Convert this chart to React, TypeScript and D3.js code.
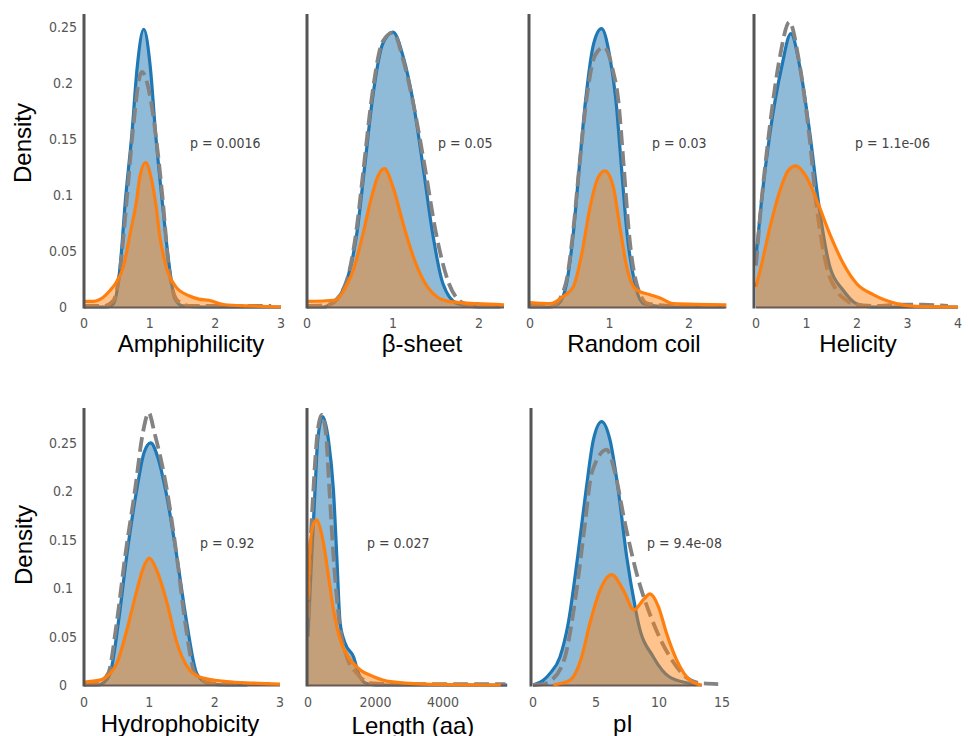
import React from 'react';
import * as d3 from 'd3';

type Pt = [number, number];

// ---- data (x value, density) ----
const amphiBlue: Pt[] = [[0, 0], [0.35, 0], [0.45, 0.003], [0.55, 0.036], [0.63, 0.095], [0.73, 0.155], [0.81, 0.214], [0.91, 0.248], [1.01, 0.214], [1.09, 0.155], [1.19, 0.095], [1.3, 0.036], [1.38, 0.008], [1.5, 0.001], [1.8, 0], [3, 0]];
const amphiGray: Pt[] = [[0, 0.001], [0.3, 0.001], [0.45, 0.006], [0.55, 0.034], [0.65, 0.095], [0.74, 0.155], [0.88, 0.21], [1.0, 0.19], [1.12, 0.14], [1.2, 0.095], [1.29, 0.036], [1.42, 0.006], [1.6, 0.001], [2.0, 0.001], [2.85, 0.001]];
const amphiOrange: Pt[] = [[0, 0.005], [0.15, 0.005], [0.25, 0.007], [0.4, 0.015], [0.48, 0.021], [0.6, 0.036], [0.7, 0.065], [0.8, 0.095], [0.85, 0.116], [0.94, 0.129], [1.02, 0.116], [1.1, 0.089], [1.15, 0.065], [1.25, 0.036], [1.4, 0.018], [1.6, 0.01], [1.75, 0.007], [1.9, 0.006], [2.15, 0.002], [2.5, 0.001], [3, 0]];

const betaBlue: Pt[] = [[0, 0], [0.2, 0], [0.28, 0.003], [0.45, 0.021], [0.58, 0.066], [0.67, 0.125], [0.76, 0.185], [0.88, 0.235], [1.0, 0.2455], [1.12, 0.223], [1.23, 0.185], [1.35, 0.125], [1.46, 0.066], [1.58, 0.021], [1.75, 0.003], [2.0, 0], [2.25, 0]];
const betaGray: Pt[] = [[0, 0.001], [0.25, 0.002], [0.45, 0.021], [0.57, 0.066], [0.66, 0.125], [0.75, 0.185], [0.88, 0.237], [1.0, 0.245], [1.12, 0.22], [1.24, 0.18], [1.37, 0.125], [1.5, 0.066], [1.65, 0.021], [1.83, 0.003], [2.0, 0.001], [2.29, 0.001]];
const betaOrange: Pt[] = [[0, 0.005], [0.32, 0.006], [0.43, 0.015], [0.55, 0.036], [0.65, 0.065], [0.74, 0.095], [0.82, 0.116], [0.9, 0.1235], [1.0, 0.107], [1.13, 0.071], [1.25, 0.042], [1.4, 0.018], [1.64, 0.005], [1.98, 0.003], [2.29, 0.002]];

const coilBlue: Pt[] = [[0, 0], [0.25, 0], [0.36, 0.003], [0.46, 0.021], [0.545, 0.066], [0.62, 0.125], [0.7, 0.185], [0.8, 0.235], [0.9, 0.2485], [1.0, 0.225], [1.08, 0.185], [1.15, 0.125], [1.22, 0.066], [1.32, 0.021], [1.43, 0.003], [1.7, 0], [2.45, 0]];
const coilGray: Pt[] = [[0, 0.001], [0.3, 0.002], [0.45, 0.021], [0.54, 0.066], [0.62, 0.125], [0.71, 0.185], [0.82, 0.225], [0.93, 0.232], [1.04, 0.212], [1.11, 0.185], [1.18, 0.125], [1.245, 0.066], [1.34, 0.021], [1.48, 0.003], [1.8, 0.001], [2.45, 0.001]];
const coilOrange: Pt[] = [[0, 0.004], [0.25, 0.003], [0.42, 0.0095], [0.545, 0.018], [0.65, 0.047], [0.755, 0.089], [0.86, 0.116], [0.943, 0.1215], [1.048, 0.107], [1.132, 0.071], [1.216, 0.036], [1.342, 0.015], [1.509, 0.011], [1.635, 0.008], [1.8, 0.003], [2.47, 0.002]];

const heliBlue: Pt[] = [[0, 0.045], [0.11, 0.095], [0.276, 0.155], [0.507, 0.214], [0.69, 0.244], [0.87, 0.214], [1.067, 0.155], [1.232, 0.095], [1.462, 0.036], [1.726, 0.015], [1.99, 0.003], [2.3, 0], [4, 0]];
const heliGray: Pt[] = [[0, 0.037], [0.1, 0.09], [0.27, 0.16], [0.48, 0.225], [0.66, 0.2545], [0.85, 0.22], [1.05, 0.155], [1.2, 0.09], [1.4, 0.036], [1.59, 0.015], [1.79, 0.006], [1.95, 0.002], [2.4, 0.001], [2.8, 0.002], [3.3, 0.002], [3.8, 0.001]];
const heliOrange: Pt[] = [[0, 0.018], [0.1, 0.036], [0.276, 0.071], [0.474, 0.104], [0.64, 0.122], [0.79, 0.126], [1.0, 0.116], [1.232, 0.092], [1.462, 0.065], [1.726, 0.039], [1.99, 0.021], [2.32, 0.011], [2.78, 0.003], [3.175, 0.0005], [4, 0]];

const hydroBlue: Pt[] = [[0, 0], [0.2, 0], [0.29, 0.002], [0.4, 0.012], [0.525, 0.064], [0.653, 0.133], [0.806, 0.201], [0.92, 0.24], [1.02, 0.25], [1.13, 0.235], [1.25, 0.201], [1.42, 0.133], [1.573, 0.064], [1.726, 0.012], [1.88, 0.002], [2.2, 0], [2.5, 0]];
const hydroGray: Pt[] = [[0, 0.001], [0.2, 0.002], [0.37, 0.012], [0.5, 0.064], [0.63, 0.133], [0.78, 0.201], [0.9, 0.26], [0.99, 0.281], [1.08, 0.26], [1.27, 0.201], [1.42, 0.133], [1.55, 0.064], [1.7, 0.012], [1.93, 0.002], [2.3, 0.001], [2.85, 0.001]];
const hydroOrange: Pt[] = [[0, 0.003], [0.24, 0.005], [0.4, 0.012], [0.5, 0.022], [0.653, 0.056], [0.806, 0.097], [0.908, 0.121], [1.0, 0.131], [1.11, 0.119], [1.27, 0.085], [1.42, 0.044], [1.57, 0.02], [1.78, 0.008], [2.18, 0.0036], [2.59, 0.002], [3.0, 0.001]];

const lenBlue: Pt[] = [[0, 0.05], [109, 0.133], [208, 0.201], [288, 0.253], [437, 0.277], [605, 0.253], [754, 0.201], [853, 0.133], [952, 0.064], [1101, 0.043], [1349, 0.029], [1498, 0.012], [1696, 0.002], [2000, 0], [5900, 0]];
const lenGray: Pt[] = [[0, 0.07], [60, 0.133], [159, 0.201], [280, 0.26], [407, 0.279], [530, 0.26], [635, 0.201], [754, 0.133], [933, 0.064], [1151, 0.029], [1448, 0.012], [1845, 0.002], [2500, 0.001], [5850, 0.001]];
const lenOrange: Pt[] = [[0, 0.088], [60, 0.143], [150, 0.165], [258, 0.1705], [360, 0.162], [456, 0.147], [605, 0.113], [754, 0.078], [952, 0.047], [1200, 0.029], [1548, 0.0155], [1944, 0.0086], [2440, 0.0034], [3432, 0.001], [5714, 0]];

const piBlue: Pt[] = [[0, 0], [0.82, 0.005], [1.35, 0.012], [2.14, 0.029], [2.8, 0.064], [3.55, 0.133], [4.21, 0.201], [4.79, 0.253], [5.45, 0.272], [6.11, 0.253], [6.77, 0.201], [7.43, 0.133], [8.1, 0.081], [8.36, 0.064], [9.55, 0.029], [10.87, 0.008], [12.46, 0.0015], [12.9, 0]];
const piGray: Pt[] = [[0, 0], [0.8, 0.001], [1.48, 0.005], [2.54, 0.029], [3.46, 0.098], [4.13, 0.167], [4.66, 0.219], [5.85, 0.243], [6.51, 0.219], [7.3, 0.167], [8.23, 0.115], [9.55, 0.064], [10.87, 0.029], [12.06, 0.009], [13.25, 0.002], [14.7, 0.001]];
const piOrange: Pt[] = [[1.61, 0], [2.14, 0.0015], [2.94, 0.005], [3.86, 0.029], [4.52, 0.064], [5.32, 0.098], [6.24, 0.114], [7.17, 0.098], [8.02, 0.0775], [8.76, 0.088], [9.29, 0.094], [9.95, 0.081], [10.61, 0.053], [11.4, 0.026], [12.46, 0.005], [13.4, 0]];

const titles = ['Amphiphilicity', 'β-sheet', 'Random coil', 'Helicity', 'Hydrophobicity', 'Length (aa)', 'pI'];
const pValues = ['p = 0.0016', 'p = 0.05', 'p = 0.03', 'p = 1.1e-06', 'p = 0.92', 'p = 0.027', 'p = 9.4e-08'];
const xTicks = [[0, 1, 2, 3], [0, 1, 2], [0, 1, 2], [0, 1, 2, 3, 4], [0, 1, 2, 3], [0, 2000, 4000], [0, 5, 10, 15]];
const yTicks = [0, 0.05, 0.1, 0.15, 0.2, 0.25];
const series = [
  [amphiBlue, amphiGray, amphiOrange],
  [betaBlue, betaGray, betaOrange],
  [coilBlue, coilGray, coilOrange],
  [heliBlue, heliGray, heliOrange],
  [hydroBlue, hydroGray, hydroOrange],
  [lenBlue, lenGray, lenOrange],
  [piBlue, piGray, piOrange],
];

// ---- layout (pixels) ----
const rows = [
  { yTop: 14, yZero: 307, yMax: 0.2616, tickY: 328, titleY: 352, pY: 148, densityY: 143, densityX: 31 },
  { yTop: 408, yZero: 685, yMax: 0.286, tickY: 707, titleY: 732, pY: 548, densityY: 545, densityX: 32 },
];
const layout = [
  { row: 0, axisX: 84, x0: 84, x1: 281, titleX: 191, pX: 190, yLabels: true },
  { row: 0, axisX: 307, x0: 307, x1: 479, titleX: 422, pX: 438, yLabels: false },
  { row: 0, axisX: 529, x0: 530, x1: 689, titleX: 634, pX: 652, yLabels: false },
  { row: 0, axisX: 754, x0: 756, x1: 958, titleX: 858, pX: 855, yLabels: false },
  { row: 1, axisX: 84, x0: 84, x1: 280, titleX: 180, pX: 200, yLabels: true },
  { row: 1, axisX: 307, x0: 308, x1: 443, titleX: 413, pX: 367, yLabels: false, titleDy: 2 },
  { row: 1, axisX: 531, x0: 533, x1: 722, titleX: 623, pX: 647, yLabels: false },
];

const BLUE = '#1f77b4';
const ORANGE = '#ff7f0e';
const GRAY = '#838383';
const tickFont = '"DejaVu Sans Condensed", "DejaVu Sans", sans-serif';
const titleFont = '"Liberation Sans", Arial, sans-serif';

function Panel({ i }: { i: number }) {
  const L = layout[i];
  const R = rows[L.row];
  const ticks = xTicks[i];
  const x = d3.scaleLinear().domain([0, ticks[ticks.length - 1]]).range([L.x0, L.x1]);
  const y = d3.scaleLinear().domain([0, R.yMax]).range([R.yZero, R.yTop]);
  const [blue, gray, orange] = series[i];

  const line = d3.line<Pt>().x((d) => x(d[0])).y((d) => y(d[1])).curve(d3.curveMonotoneX);
  const area = d3.area<Pt>().x((d) => x(d[0])).y0(y(0)).y1((d) => y(d[1])).curve(d3.curveMonotoneX);
  const allX = [...blue, ...orange].map((d) => d[0]);
  const fmtY = (v: number) => (v === 0 ? '0' : String(+v.toFixed(2)));

  return (
    <g>
      <path d={area(blue) || ''} fill={BLUE} fillOpacity={0.5} />
      <path d={line(blue) || ''} fill="none" stroke={BLUE} strokeWidth={3.2} />
      <path d={line(gray) || ''} fill="none" stroke={GRAY} strokeWidth={3.8} strokeDasharray="15,6" />
      <path d={area(orange) || ''} fill={ORANGE} fillOpacity={0.47} />
      <line x1={x(d3.min(allX)!)} x2={x(d3.max(allX)!)} y1={y(0) + 0.5} y2={y(0) + 0.5} stroke="#6a5a55" strokeWidth={2} />
      <path d={line(orange) || ''} fill="none" stroke={ORANGE} strokeWidth={3.2} />
      <line x1={L.axisX} x2={L.axisX} y1={R.yTop} y2={R.yZero + 1.5} stroke="#555" strokeWidth={3} />
      {ticks.map((t) => (
        <text key={t} x={x(t)} y={R.tickY} textAnchor="middle" fontFamily={tickFont} fontSize={14} fill="#555">
          {t}
        </text>
      ))}
      {L.yLabels &&
        yTicks.map((t) => (
          <text key={t} x={L.axisX - 21} y={y(t) + 5} textAnchor="middle" fontFamily={tickFont} fontSize={14} fill="#555">
            {fmtY(t)}
          </text>
        ))}
      {L.yLabels && (
        <text transform={`translate(${R.densityX},${R.densityY}) rotate(-90)`} textAnchor="middle" fontFamily={titleFont} fontSize={24} fill="#000">
          Density
        </text>
      )}
      <text x={L.pX} y={R.pY} fontFamily={tickFont} fontSize={14} fill="#444">
        {pValues[i]}
      </text>
      <text x={L.titleX} y={R.titleY + (L.titleDy || 0)} textAnchor="middle" fontFamily={titleFont} fontSize={24} fill="#000">
        {titles[i]}
      </text>
    </g>
  );
}

export default function App() {
  return (
    <svg width={968} height={736} style={{ position: 'absolute', left: 0, top: 0, background: '#fff' }}>
      <rect width={968} height={736} fill="#fff" />
      {titles.map((_, i) => (
        <Panel key={i} i={i} />
      ))}
    </svg>
  );
}
